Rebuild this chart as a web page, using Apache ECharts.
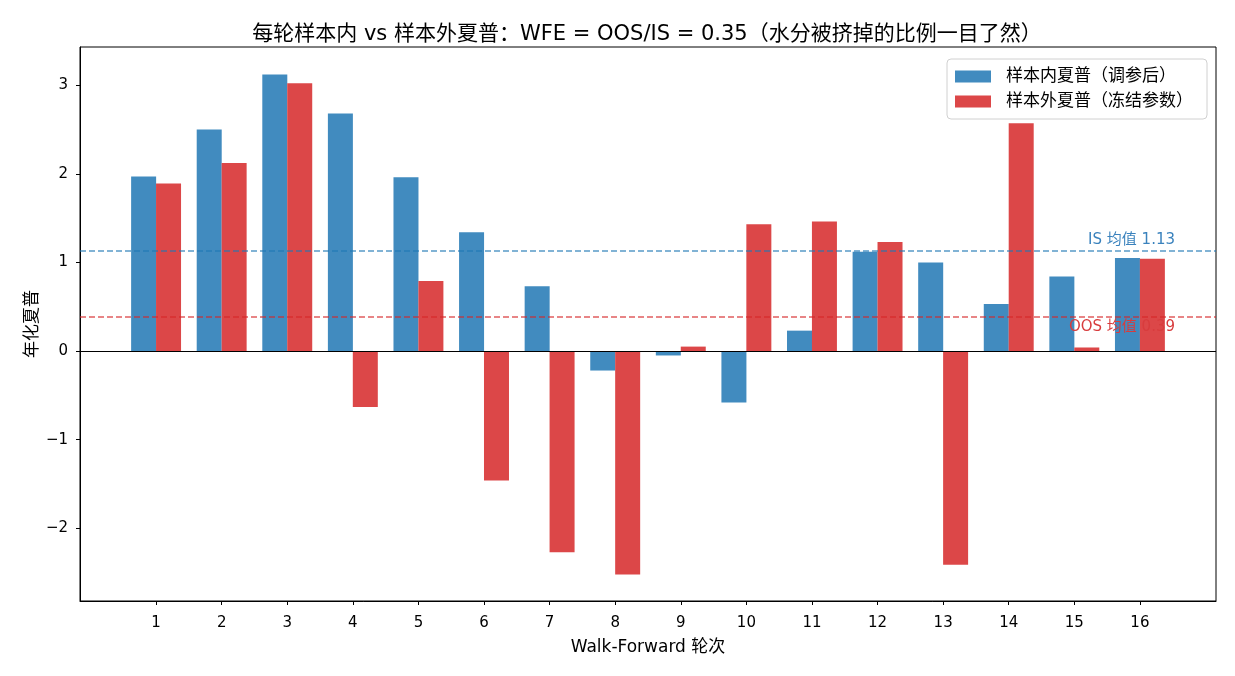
<!DOCTYPE html>
<html>
<head>
<meta charset="utf-8">
<script src="https://cdn.jsdelivr.net/npm/echarts@6/dist/echarts.min.js"></script>
<style>
  html, body { margin: 0; padding: 0; background: #fff; }
  #main { width: 1235px; height: 676px; }
</style>
</head>
<body>
<div id="main"></div>
<script>
// 每轮数据
var rounds = [1, 2, 3, 4, 5, 6, 7, 8, 9, 10, 11, 12, 13, 14, 15, 16];
var isSharpe  = [1.97, 2.50, 3.12, 2.68, 1.96, 1.34, 0.73, -0.22, -0.05, -0.58, 0.23, 1.12, 1.00, 0.53, 0.84, 1.05];
var oosSharpe = [1.89, 2.12, 3.02, -0.63, 0.79, -1.46, -2.27, -2.52, 0.05, 1.43, 1.46, 1.23, -2.41, 2.57, 0.04, 1.04];
var isMean = 1.13;
var oosMean = 0.39;
var yTicks = [-2, -1, 0, 1, 2, 3];

var font = '"DejaVu Sans", "Noto Sans CJK SC", sans-serif';
var blue = '#418BBF';
var red = '#DC4748';

// 两组柱子左右错开 0.19
var isData = rounds.map(function (r, i) { return [r - 0.19, isSharpe[i]]; });
var oosData = rounds.map(function (r, i) { return [r + 0.19, oosSharpe[i]]; });

var chart = echarts.init(document.getElementById('main'), null, { renderer: 'canvas' });

var option = {
  animation: false,
  textStyle: { fontFamily: font },
  title: {
    text: '每轮样本内 vs 样本外夏普：WFE = OOS/IS = 0.35（水分被挤掉的比例一目了然）',
    left: 642,
    textAlign: 'center',
    top: 19,
    textStyle: { fontFamily: font, fontSize: 21, fontWeight: 'normal', color: '#000' }
  },
  legend: {
    orient: 'vertical',
    right: 28,
    top: 59,
    icon: 'rect',
    itemWidth: 36,
    itemHeight: 12,
    itemGap: 8,
    padding: [9, 14, 9, 8],
    borderColor: '#d0d0d0',
    borderWidth: 1,
    borderRadius: 4,
    backgroundColor: '#fff',
    textStyle: { fontFamily: font, fontSize: 17, lineHeight: 17, color: '#000', padding: [0, 0, 0, 10] },
    data: ['样本内夏普（调参后）', '样本外夏普（冻结参数）']
  },
  grid: {
    left: 80, right: 19, top: 47, bottom: 75,
    show: true, borderColor: '#000', borderWidth: 1
  },
  xAxis: {
    type: 'value',
    min: -0.16,
    max: 17.16,
    name: 'Walk-Forward 轮次',
    nameLocation: 'middle',
    nameGap: 38,
    nameTextStyle: { fontFamily: font, fontSize: 17, color: '#000' },
    axisLine: { onZero: false, lineStyle: { color: '#000' } },
    axisTick: { show: true, length: 4, lineStyle: { color: '#000' }, customValues: rounds },
    axisLabel: { fontSize: 15, color: '#000', margin: 15, customValues: rounds },
    splitLine: { show: false }
  },
  yAxis: {
    type: 'value',
    min: -2.82,
    max: 3.43,
    name: '年化夏普',
    nameLocation: 'middle',
    nameRotate: 90,
    nameGap: 39,
    nameMoveOverlap: false,
    nameTextStyle: { fontFamily: font, fontSize: 17, color: '#000' },
    axisLine: { show: true, onZero: false, lineStyle: { color: '#000' } },
    axisTick: { show: true, length: 4, lineStyle: { color: '#000' }, customValues: yTicks },
    axisLabel: {
      fontSize: 15, color: '#000', margin: 12, customValues: yTicks,
      formatter: function (v) { return String(v).replace('-', '\u2212'); }
    },
    splitLine: { show: false }
  },
  series: [
    {
      name: '样本内夏普（调参后）',
      type: 'bar',
      data: isData,
      barWidth: 25,
      barGap: '-100%',
      itemStyle: { color: blue },
      markLine: {
        silent: true,
        symbol: 'none',
        data: [
          {
            yAxis: 0,
            lineStyle: { color: '#000', type: 'solid', width: 1 },
            label: { show: false }
          },
          {
            yAxis: isMean,
            lineStyle: { color: 'rgba(31,119,180,0.75)', type: [6, 3], width: 1.5 },
            label: {
              show: true,
              position: 'insideEndTop',
              formatter: 'IS 均值 ' + isMean.toFixed(2),
              color: '#3a82bd',
              fontSize: 15,
              fontFamily: font,
              padding: [0, 38, 0, 0],
              distance: 3
            }
          }
        ]
      }
    },
    {
      name: '样本外夏普（冻结参数）',
      type: 'bar',
      data: oosData,
      barWidth: 25,
      barGap: '-100%',
      itemStyle: { color: red },
      markLine: {
        silent: true,
        symbol: 'none',
        data: [
          {
            yAxis: oosMean,
            lineStyle: { color: 'rgba(214,39,40,0.75)', type: [6, 3], width: 1.5 },
            label: {
              show: true,
              position: 'insideEndBottom',
              formatter: 'OOS 均值 ' + oosMean.toFixed(2),
              color: '#d83c3d',
              fontSize: 15,
              fontFamily: font,
              padding: [0, 38, 0, 0],
              distance: 3
            }
          }
        ]
      }
    }
  ]
};

chart.setOption(option);
</script>
</body>
</html>
